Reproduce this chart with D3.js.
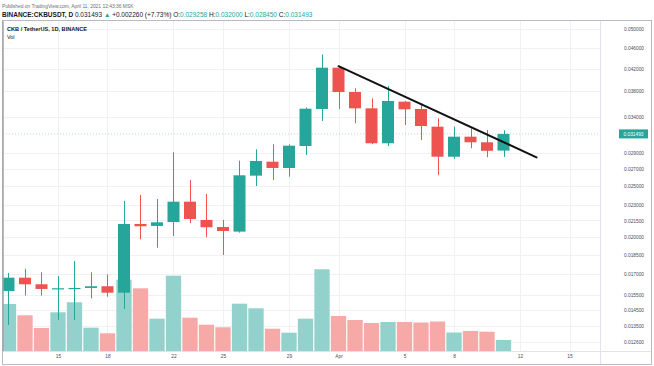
<!DOCTYPE html>
<html><head><meta charset="utf-8">
<script src="https://cdn.jsdelivr.net/npm/d3@7"></script>
<style>
body{margin:0;background:#fff;}
svg{display:block;font-family:"Liberation Sans",Arial,sans-serif;}
</style>
</head><body>
<svg id="c" width="654" height="366"></svg>
<script>
// ---- data ----
const dates = ["2021-03-12","2021-03-13","2021-03-14","2021-03-15","2021-03-16","2021-03-17","2021-03-18","2021-03-19","2021-03-20","2021-03-21","2021-03-22","2021-03-23","2021-03-24","2021-03-25","2021-03-26","2021-03-27","2021-03-28","2021-03-29","2021-03-30","2021-03-31","2021-04-01","2021-04-02","2021-04-03","2021-04-04","2021-04-05","2021-04-06","2021-04-07","2021-04-08","2021-04-09","2021-04-10","2021-04-11"];
const open  = [0.01576,0.01671,0.01623,0.01590,0.01593,0.01597,0.01609,0.01564,0.02117,0.02099,0.02135,0.02336,0.02155,0.02089,0.02047,0.02620,0.02786,0.02710,0.02986,0.03515,0.04216,0.03788,0.03525,0.03022,0.03630,0.03515,0.03251,0.02848,0.03111,0.03035,0.029258];
const high  = [0.01706,0.01737,0.01711,0.01684,0.01799,0.01711,0.01696,0.02343,0.02406,0.02364,0.02904,0.02570,0.02417,0.02155,0.02799,0.02943,0.03008,0.03008,0.03538,0.04469,0.04248,0.03850,0.03684,0.03890,0.03640,0.03604,0.03374,0.03251,0.03228,0.03204,0.032000];
const low   = [0.01357,0.01544,0.01544,0.01387,0.01387,0.01526,0.01537,0.01456,0.01979,0.01907,0.02008,0.02124,0.01997,0.01847,0.02038,0.02503,0.02570,0.02608,0.02870,0.03334,0.03515,0.03300,0.03010,0.02986,0.03275,0.03066,0.02628,0.02820,0.02956,0.02841,0.028450];
const close = [0.01671,0.01623,0.01590,0.01595,0.01597,0.01609,0.01564,0.02117,0.02096,0.02133,0.02336,0.02164,0.02087,0.02053,0.02624,0.02795,0.02710,0.02990,0.03519,0.04216,0.03788,0.03525,0.03022,0.03641,0.03510,0.03261,0.02848,0.03111,0.03035,0.02923,0.031493];
const volume = [470,357,230,387,487,233,177,713,627,323,753,333,263,237,473,427,223,183,323,817,350,310,280,290,290,285,295,185,200,193,110];
const priceTicks = [0.050000,0.046000,0.042000,0.038000,0.034000,0.029000,0.027000,0.025000,0.023000,0.021500,0.020000,0.018500,0.017000,0.015500,0.014500,0.013500,0.012600];
const dateTicks = ["2021-03-15","2021-03-18","2021-03-22","2021-03-25","2021-03-29","2021-04-01","2021-04-05","2021-04-08","2021-04-12","2021-04-15"];
const dateTickLabels = ["15","18","22","25","29","Apr","5","8","12","15"];
const trendDates = ["2021-04-01","2021-04-13"];
const trendPrices = [0.04245,0.02840];
const lastPrice = 0.031493;

// ---- layout ----
const svg = d3.select("#c");
const L = 3, R = 600, T = 21, B = 351;
const parse = d3.utcParse("%Y-%m-%d");
const DAY = 86400000;
const d0 = parse(dates[0]);
const x = d3.scaleUtc()
  .domain([new Date(d0.getTime() - 0.333*DAY), new Date(d0.getTime() + 35.848*DAY)])
  .range([L, R]);
const y = d3.scaleLog().domain([0.012095, 0.05203]).range([B, 20]);
const v = d3.scaleLinear().domain([0, 1000]).range([B, B - 100]);
const UP = "#26a69a", DN = "#ef5350", UPV = "#93d2cc", DNV = "#f7a9a7";

const data = dates.map((d,i)=>({date:parse(d),o:open[i],h:high[i],l:low[i],c:close[i],v:volume[i]}));

svg.append("rect").attr("width",654).attr("height",366).attr("fill","#fff");

// header texts
svg.append("text").attr("x",2).attr("y",7.5).attr("font-size",4.9).attr("fill","#6a6d78")
  .text("Published on TradingView.com, April 11, 2021 12:43:36 MSK");
const hdr = svg.append("text").attr("x",2).attr("y",16.5).attr("font-size",6.5).attr("fill","#131722");
hdr.append("tspan").attr("font-weight","bold").text("BINANCE:CKBUSDT, D ");
hdr.append("tspan").text("0.031493 ");
hdr.append("tspan").attr("fill",UP).text("▲ ");
hdr.append("tspan").text("+0.002260 (+7.73%) ");
[["O:","0.029258"],["H:","0.032000"],["L:","0.028450"],["C:","0.031493"]].forEach(([k,val])=>{
  hdr.append("tspan").text(k);
  hdr.append("tspan").attr("fill",UP).text(val+" ");
});

svg.append("clipPath").attr("id","pane").append("rect")
  .attr("x",L).attr("y",T).attr("width",R-L).attr("height",B-T);
const g = svg.append("g").attr("clip-path","url(#pane)");

// grid
g.selectAll("line.hg").data(priceTicks).join("line")
  .attr("x1",L).attr("x2",R).attr("y1",d=>Math.round(y(d))+0.5).attr("y2",d=>Math.round(y(d))+0.5)
  .attr("stroke","#eff1f5");
g.selectAll("line.vg").data(dateTicks).join("line")
  .attr("y1",T).attr("y2",B).attr("x1",d=>Math.round(x(parse(d)))+0.5).attr("x2",d=>Math.round(x(parse(d)))+0.5)
  .attr("stroke","#eff1f5");

// volume
const bw = 16.5;
g.selectAll("rect.vol").data(data).join("rect")
  .attr("x",d=>x(d.date)-bw/2+0.6).attr("width",bw-1.2)
  .attr("y",d=>v(d.v)).attr("height",d=>B-v(d.v))
  .attr("fill",d=>d.c>=d.o?UPV:DNV);

// candles
const cg = g.selectAll("g.cdl").data(data).join("g");
cg.append("line")
  .attr("x1",d=>Math.round(x(d.date))+0.5).attr("x2",d=>Math.round(x(d.date))+0.5)
  .attr("y1",d=>y(d.h)).attr("y2",d=>y(d.l))
  .attr("stroke",d=>d.c>=d.o?UP:DN).attr("stroke-width",1);
cg.append("rect")
  .attr("x",d=>x(d.date)-6).attr("width",12)
  .attr("y",d=>y(Math.max(d.o,d.c)))
  .attr("height",d=>Math.max(1.2,Math.abs(y(d.o)-y(d.c))))
  .attr("fill",d=>d.c>=d.o?UP:DN);

// last price line
g.append("line").attr("x1",L).attr("x2",R).attr("y1",y(lastPrice)).attr("y2",y(lastPrice))
  .attr("stroke",UP).attr("stroke-dasharray","1,2").attr("opacity",0.35);

// trend line
g.append("line")
  .attr("x1",x(parse(trendDates[0]))).attr("y1",y(trendPrices[0]))
  .attr("x2",x(parse(trendDates[1]))).attr("y2",y(trendPrices[1]))
  .attr("stroke","#111").attr("stroke-width",2).attr("stroke-linecap","round");

// pane legend
svg.append("text").attr("x",7).attr("y",31).attr("font-size",5.6).attr("font-weight","bold").attr("fill","#131722")
  .text("CKB / TetherUS, 1D, BINANCE");
svg.append("text").attr("x",7).attr("y",38.5).attr("font-size",5.4).attr("fill","#131722").text("Vol");

// axes separators & border
svg.append("line").attr("x1",R+0.5).attr("x2",R+0.5).attr("y1",T).attr("y2",364).attr("stroke","#e0e3eb");
svg.append("line").attr("x1",L).attr("x2",651).attr("y1",B+0.5).attr("y2",B+0.5).attr("stroke","#e0e3eb");
svg.append("rect").attr("x",2.5).attr("y",20.5).attr("width",649).attr("height",344)
  .attr("fill","none").attr("stroke","#b8bbc2");
svg.append("line").attr("x1",3).attr("x2",3).attr("y1",21).attr("y2",351).attr("stroke","#a0a3aa").attr("stroke-width",1.5);

// y axis
const ya = svg.append("g").attr("transform",`translate(${R},0)`)
  .call(d3.axisRight(y).tickValues(priceTicks).tickFormat(d3.format(".6f")).tickSize(0).tickPadding(24));
ya.select(".domain").remove();
ya.selectAll("text").attr("font-size",4.8).attr("fill","#4a4d57").attr("font-family","Liberation Sans, Arial, sans-serif");

// last price label
const yl = y(lastPrice);
svg.append("rect").attr("x",619).attr("y",yl-4.5).attr("width",29).attr("height",9).attr("fill",UP);
svg.append("text").attr("x",633.5).attr("y",yl).attr("dy","0.35em").attr("text-anchor","middle")
  .attr("font-size",4.8).attr("fill","#fff").text(d3.format(".6f")(lastPrice));

// x axis
const xa = svg.append("g").attr("transform",`translate(0,${B})`)
  .call(d3.axisBottom(x).tickValues(dateTicks.map(parse)).tickFormat((d,i)=>dateTickLabels[i]).tickSize(0).tickPadding(4));
xa.select(".domain").remove();
xa.selectAll("text").attr("font-size",4.8).attr("fill","#4a4d57").attr("font-family","Liberation Sans, Arial, sans-serif");
</script>
</body></html>
